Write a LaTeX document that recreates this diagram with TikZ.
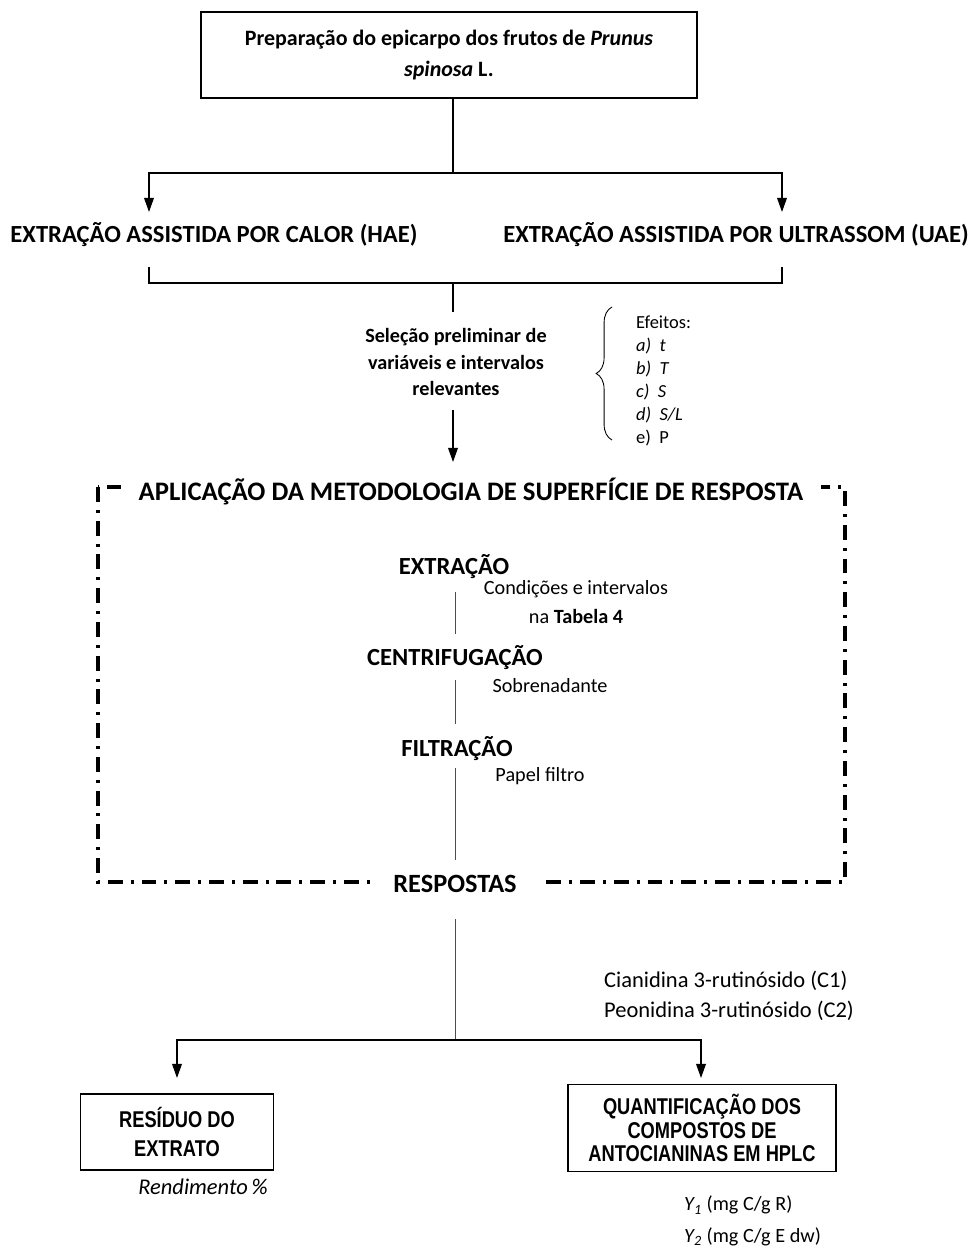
\documentclass[tikz,border=0pt]{standalone}
\usepackage{fontspec}
\setmainfont{Carlito}
\newfontfamily\narrowfont[FakeStretch=0.80]{Liberation Sans}
\usetikzlibrary{positioning}
\usetikzlibrary{arrows.meta}
\usetikzlibrary{decorations.pathreplacing}
\tikzset{post/.style={-{Triangle[length=8pt,width=5.5pt]},line width=0.8pt},
  link/.style={line width=0.8pt},
  thinlink/.style={line width=0.45pt,black!70},
  stepbox/.style={draw,line width=1pt,align=center,inner sep=2pt},
  heading/.style={font=\bfseries\fontsize{14}{17}\selectfont},
  note/.style={font=\fontsize{11.5}{14}\selectfont,align=center},
  frame/.style={line width=1.8pt,dash pattern=on 8.5pt off 4.5pt on 1.7pt off 4.5pt}}

\begin{document}
\begin{tikzpicture}[x=0.02cm,y=-0.02cm]
  \useasboundingbox (0,0) rectangle (971,1248);

  % top
  \node[stepbox, minimum width=9.92cm, minimum height=1.72cm, font=\bfseries\fontsize{12.5}{18}\selectfont] (prep) at (449,55) {Preparação do epicarpo dos frutos de \textit{Prunus}\\\textit{spinosa} L.};
  \coordinate (split) at (453,173);
  \coordinate (haein) at (149,212);
  \coordinate (uaein) at (782,212);
  \draw[link] (prep.south -| split) -- (split);
  \draw[post] (split) -| (haein);
  \draw[post] (split) -| (uaein);

  % extraction methods
  \node[heading] (hae) at (214,235) {EXTRAÇÃO ASSISTIDA POR CALOR (HAE)};
  \node[heading] (uae) at (736,235) {EXTRAÇÃO ASSISTIDA POR ULTRASSOM (UAE)};
  \coordinate (haeout) at (149,267);
  \coordinate (uaeout) at (782,267);
  \coordinate (join) at (453,283);
  \draw[link] (haeout) |- (join) -| (uaeout);

  % preliminary selection
  \node[font=\bfseries\fontsize{11.5}{15.3}\selectfont, align=center] (sel) at (456,362) {Seleção preliminar de\\variáveis e intervalos\\relevantes};
  \coordinate (selin) at (453,312);
  \draw[link] (join) -- (selin);
  \coordinate (rsmin) at (453,462);
  \draw[post] (453,410) coordinate (selout) -- (rsmin);
  \draw[decorate, decoration={brace, amplitude=9pt}, line width=0.5pt] (612,440) -- (612,307);
  \node[font=\fontsize{10.5}{13}\selectfont, align=left, anchor=north west] (eff) at (630,310) {Efeitos:\\\textit{a)\ \ t}\\\textit{b)\ \ T}\\\textit{c)\ \ S}\\\textit{d)\ \ S/L}\\e)\ \ P};

  % response surface
  \draw[frame] (98,487) rectangle (845,882);
  \node[fill=white, inner xsep=10pt, inner ysep=2pt, font=\bfseries\fontsize{15.2}{18}\selectfont] (rsm) at (471,492) {APLICAÇÃO DA METODOLOGIA DE SUPERFÍCIE DE RESPOSTA};
  \node[heading] (ext) at (454,567) {EXTRAÇÃO};
  \node[note] (cond) at (576,602) {Condições e intervalos\\[2pt]na \textbf{Tabela 4}};
  \node[heading] (cen) at (455,658) {CENTRIFUGAÇÃO};
  \node[note] (sob) at (550,686) {Sobrenadante};
  \node[heading] (fil) at (457,749) {FILTRAÇÃO};
  \node[note] (pap) at (540,776) {Papel filtro};
  \draw[thinlink] (455,592) -- (455,634);
  \draw[thinlink] (455,680) -- (455,724);
  \draw[thinlink] (455,768) -- (455,860);
  \node[heading, fill=white, inner xsep=12pt, font=\bfseries\fontsize{15}{18}\selectfont] (resp) at (455,884) {RESPOSTAS};

  % outputs
  \coordinate (fork) at (455,1040);
  \coordinate (resin) at (177,1078);
  \coordinate (quain) at (701,1078);
  \draw[thinlink] (455,919) -- (fork);
  \draw[post] (fork) -| (resin);
  \draw[post] (fork) -| (quain);
  \node[note, align=left, font=\fontsize{12.8}{15}\selectfont] (comp) at (729,996) {Cianidina 3-rutinósido (C1)\\[2pt]Peonidina 3-rutinósido (C2)};

  \node[stepbox, minimum width=3.86cm, minimum height=1.52cm, font=\narrowfont\bfseries\fontsize{13}{17}\selectfont] (res) at (177,1132) {RESÍDUO DO\\EXTRATO};
  \node[note, font=\itshape\fontsize{12.8}{15}\selectfont] (rend) at (203,1187) {Rendimento\,\%};
  \node[stepbox, minimum width=5.36cm, minimum height=1.74cm, font=\narrowfont\bfseries\fontsize{13}{13.5}\selectfont] (qua) at (702,1128) {QUANTIFICAÇÃO DOS\\COMPOSTOS DE\\ANTOCIANINAS EM HPLC};
  \node[note, align=left, anchor=west] (ys) at (678,1221) {\textit{Y\textsubscript{1}} (mg C/g R)\\[4pt]\textit{Y\textsubscript{2}} (mg C/g E dw)};

\end{tikzpicture}
\end{document}
